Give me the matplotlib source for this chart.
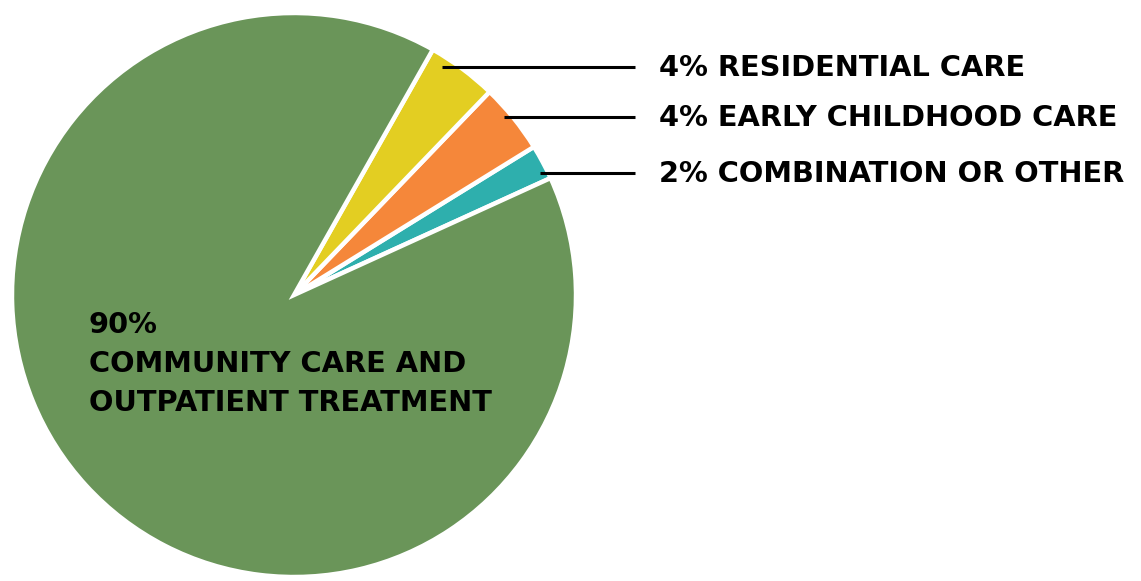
import matplotlib
matplotlib.use('Agg')
import matplotlib.pyplot as plt

# data (order = counterclockwise from the start angle)
labels = ['2% COMBINATION OR OTHER', '4% EARLY CHILDHOOD CARE', '4% RESIDENTIAL CARE',
          '90%\nCOMMUNITY CARE AND\nOUTPATIENT TREATMENT']
values = [2, 4, 4, 90]
colors = ['#2eafad', '#f5873a', '#e3ce22', '#6a9559']

W, H = 1141, 581
fig = plt.figure(figsize=(W / 100, H / 100), dpi=100)
ax = fig.add_axes([0, 0, 1, 1])
ax.set_aspect('equal')

cx, cy, r = 294, H - 295, 282
ax.pie(values, colors=colors, startangle=24.5, counterclock=True,
       center=(cx, cy), radius=r, frame=True,
       wedgeprops=dict(edgecolor='white', linewidth=3.2))
ax.set_xlim(0, W)
ax.set_ylim(0, H)
ax.axis('off')

font = dict(family=['DejaVu Sans'], weight='bold', color='black')

# leader lines + labels for the small slices
rows_y = [173, 117, 67]
start_x = [540, 504, 442]
for i in range(3):
    y = H - rows_y[i]
    ax.plot([start_x[i], 635], [y, y], color='black', lw=2.2, solid_capstyle='butt')
    ax.text(659, y - 1, labels[i], fontsize=20.8, va='center', ha='left', **font)

ax.text(89, H - 311, labels[3], fontsize=20.8, va='top', ha='left',
        linespacing=1.5, **font)

plt.savefig('out.png', dpi=100)
